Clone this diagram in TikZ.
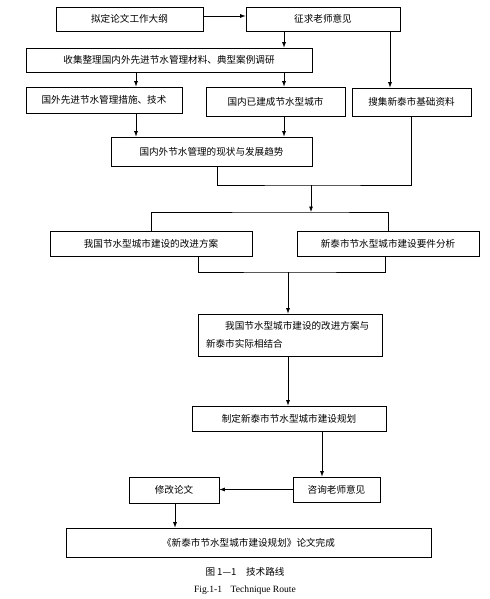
\documentclass[tikz,border=0pt]{standalone}
\usepackage{fontspec}
\setmainfont{Liberation Serif}
\newfontfamily\cjk{Noto Sans CJK SC}
\usetikzlibrary{arrows.meta}

\tikzset{
  box/.style={draw, line width=0.7, inner sep=0pt, font=\cjk\fontsize{9.6bp}{18bp}\selectfont},
  link/.style={-{Latex[length=5.5bp, width=4bp]}, line width=0.7},
  wire/.style={line width=0.7},
}

\begin{document}
\begin{tikzpicture}[x=1bp, y=-1bp]
  \useasboundingbox (0, 0) rectangle (490, 599);

  \node[box, minimum width=147bp, minimum height=24bp] (outline) at (129.5, 19) {拟定论文工作大纲};
  \node[box, minimum width=154bp, minimum height=24bp] (advice) at (323, 19) {征求老师意见};
  \node[box, minimum width=286bp, minimum height=24bp] (collect) at (169, 60) {收集整理国内外先进节水管理材料、典型案例调研};
  \node[box, minimum width=156bp, minimum height=26bp] (abroad) at (104, 100) {国外先进节水管理措施、技术};
  \node[box, minimum width=139bp, minimum height=29bp] (domestic) at (275.5, 101.5) {国内已建成节水型城市};
  \node[box, minimum width=119bp, minimum height=28bp] (basics) at (411.5, 102) {搜集新泰市基础资料};
  \node[box, minimum width=201bp, minimum height=29bp] (trend) at (211.5, 151.5) {国内外节水管理的现状与发展趋势};
  \node[box, minimum width=202bp, minimum height=25bp] (improve) at (151, 243.5) {我国节水型城市建设的改进方案};
  \node[box, minimum width=182bp, minimum height=25bp] (elements) at (388, 243.5) {新泰市节水型城市建设要件分析};
  \node[box, minimum width=184bp, minimum height=42bp, text width=168bp, align=left] (combine) at (290, 335)
    {\hspace*{2em}我国节水型城市建设的改进方案与\\新泰市实际相结合};
  \node[box, minimum width=194bp, minimum height=25bp] (plan) at (289, 418.5) {制定新泰市节水型城市建设规划};
  \node[box, minimum width=87bp, minimum height=25bp] (consult) at (336.5, 489.5) {咨询老师意见};
  \node[box, minimum width=90bp, minimum height=26bp] (revise) at (174, 490) {修改论文};
  \node[box, minimum width=365bp, minimum height=29bp] (finish) at (248.5, 542.5) {《新泰市节水型城市建设规划》论文完成};

  \node[font=\cjk\fontsize{9.6bp}{12bp}\selectfont] (figcn) at (245, 572) {图 1—1\quad 技术路线};
  \node[font=\fontsize{9.6bp}{12bp}\selectfont] (figen) at (245, 590) {Fig.1-1\hspace{0.9em}Technique Route};

  \coordinate (join1) at (311, 185);
  \coordinate (join2) at (311, 212);
  \coordinate (join3) at (288, 272);

  \draw[link] ([yshift=3bp]outline.east) -- ([yshift=3bp]advice.west);
  \draw[link] (284, 0 |- advice.south) -- (284, 0 |- collect.north);
  \draw[link] (390, 0 |- advice.south) -- (390, 0 |- basics.north);
  \draw[link] (136, 0 |- collect.south) -- (136, 0 |- abroad.north);
  \draw[link] (284, 0 |- collect.south) -- (284, 0 |- domestic.north);
  \draw[link] (136, 0 |- abroad.south) -- (136, 0 |- trend.north);
  \draw[link] (284, 0 |- domestic.south) -- (284, 0 |- trend.north);

  \draw[wire] (217, 0 |- trend.south) |- (join1) -| (basics.south);
  \draw[link] (join1) -- (join2);
  \draw[wire] (improve.north) |- (join2) -| (elements.north);

  \draw[wire] (198, 0 |- improve.south) |- (join3) -| (385, 0 |- elements.south);
  \draw[link] (join3) -- (288, 0 |- combine.north);
  \draw[link] (288, 0 |- combine.south) -- (288, 0 |- plan.north);
  \draw[link] (322, 0 |- plan.south) -- (322, 0 |- consult.north);
  \draw[link] (consult.west) -- (consult.west -| revise.east);
  \draw[link] (175, 0 |- revise.south) -- (175, 0 |- finish.north);

\end{tikzpicture}
\end{document}
